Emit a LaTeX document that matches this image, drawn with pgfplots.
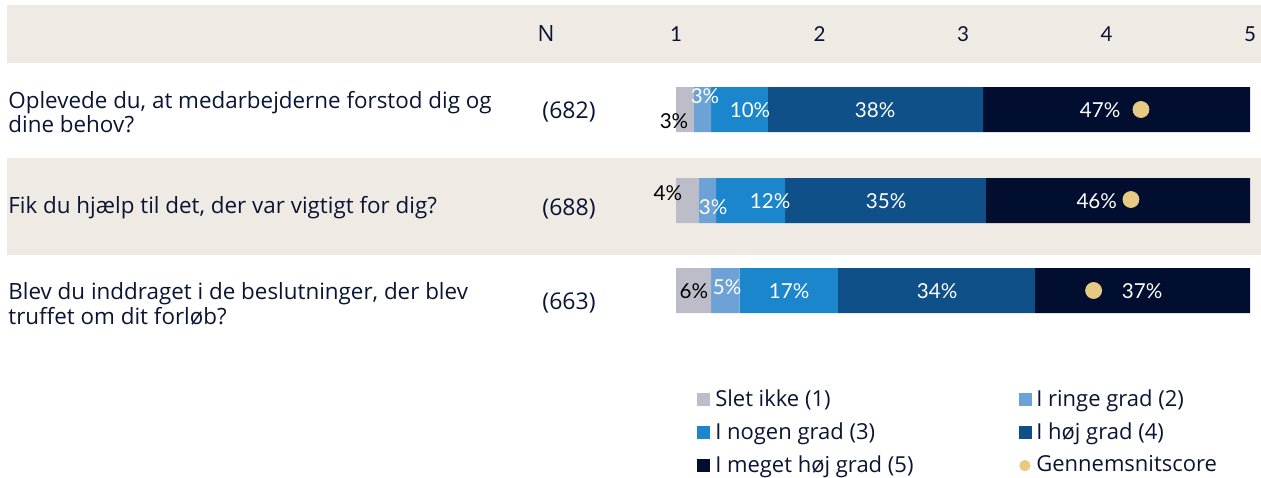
\documentclass[border=0pt]{standalone}
\usepackage{pgfplots}
\pgfplotsset{compat=1.18}
\usepackage{fontspec}
\setmainfont{Open Sans}
\newfontfamily\numfont{Lato}
\definecolor{beige}{HTML}{EFEAE3}
\definecolor{cgray}{HTML}{BCBDC8}
\definecolor{clight}{HTML}{6CA2D6}
\definecolor{cmid}{HTML}{1C86CC}
\definecolor{cdark}{HTML}{0F5088}
\definecolor{cnavy}{HTML}{020E30}
\definecolor{cgold}{HTML}{E8C983}
\definecolor{ctext}{HTML}{0A1433}
\pgfplotsset{
  base/.style={scale only axis, width=630.5pt, height=238.5pt, at={(0pt,0pt)}, anchor=south west,
    ymin=0, ymax=477, y dir=reverse},
}
\begin{document}
\begin{tikzpicture}
\fontsize{11.2}{12.2}\selectfont
% background and text axis (pixel coordinates)
\begin{axis}[base, xmin=0, xmax=1261, hide axis]
\fill[beige] (axis cs:7,5) rectangle (axis cs:1261,63);
\fill[beige] (axis cs:7,158) rectangle (axis cs:1261,255);
\node[anchor=center, text=ctext] at (axis cs:546,34) {N};
\node[anchor=west, align=left, text=ctext, inner xsep=0pt] at (axis cs:8,112) {Oplevede du, at medarbejderne forstod dig og\\dine behov?};
\node[anchor=west, align=left, text=ctext, inner xsep=0pt] at (axis cs:8,208) {Fik du hjælp til det, der var vigtigt for dig?};
\node[anchor=west, align=left, text=ctext, inner xsep=0pt] at (axis cs:8,304) {Blev du inddraget i de beslutninger, der blev\\truffet om dit forløb?};
\begin{scope}[every node/.style={font=\fontsize{11.5}{13}\selectfont}]
\node[text=ctext] at (axis cs:569,112) {(682)};
\node[text=ctext] at (axis cs:569,209) {(688)};
\node[text=ctext] at (axis cs:569,303) {(663)};
\end{scope}
\end{axis}
% bars axis (percent)
\begin{axis}[base, xmin=-117.77, xmax=101.92, hide axis,
  xbar stacked, bar width=22.5pt]
\addplot[fill=cgray, draw=none] coordinates {(3.1,109.5) (4.0,200.5) (6.1,290.5)};
\addplot[fill=clight, draw=none] coordinates {(3.0,109.5) (3.0,200.5) (5.0,290.5)};
\addplot[fill=cmid, draw=none] coordinates {(9.9,109.5) (12.0,200.5) (17.1,290.5)};
\addplot[fill=cdark, draw=none] coordinates {(37.5,109.5) (35.0,200.5) (34.3,290.5)};
\addplot[fill=cnavy, draw=none] coordinates {(46.5,109.5) (46.0,200.5) (37.5,290.5)};
\end{axis}
\begin{axis}[base, xmin=-117.77, xmax=101.92, hide axis]
\begin{scope}[every node/.style={font=\numfont\fontsize{10.3}{12}\selectfont, inner sep=0pt}]
\node[text=black] at (axis cs:-0.35,121) {3\%};
\node[text=white] at (axis cs:5.05,96) {3\%};
\node[text=white] at (axis cs:12.9,110) {10\%};
\node[text=white] at (axis cs:34.7,110) {38\%};
\node[text=white] at (axis cs:73.9,110) {47\%};
\node[text=black] at (axis cs:-1.4,193) {4\%};
\node[text=white] at (axis cs:6.45,207) {3\%};
\node[text=white] at (axis cs:16.4,201) {12\%};
\node[text=white] at (axis cs:36.6,201) {35\%};
\node[text=white] at (axis cs:73.3,201) {46\%};
\node[text=black] at (axis cs:3.1,291) {6\%};
\node[text=white] at (axis cs:8.9,287) {5\%};
\node[text=white] at (axis cs:19.7,291) {17\%};
\node[text=white] at (axis cs:45.5,291) {34\%};
\node[text=white] at (axis cs:81.2,291) {37\%};
\end{scope}
\end{axis}
% score axis
\begin{axis}[base, xmin=-3.7108, xmax=5.0767,
  axis line style={draw=none}, tick style={draw=none},
  ytick=\empty, xtick={1,2,3,4,5}, xticklabel pos=right,
  /pgf/number format/assume math mode=true,
  xticklabel style={anchor=center, yshift=-17pt, text=ctext, font=\numfont\fontsize{10.3}{12}\selectfont},
  legend columns=2,
  legend style={draw=none, fill=none, at={(axis cs:1.105,382)}, anchor=north west,
    font=\fontsize{11}{12}\selectfont, text=ctext, row sep=3.5pt,
    nodes={inner ysep=1.5pt, inner xsep=2.5pt},
    /tikz/every even column/.append style={column sep=50pt}},
  legend cell align=left]
\addlegendimage{legend image code/.code={\fill[cgray] (0pt,-3pt) rectangle (6pt,3pt);}}
\addlegendentry{Slet ikke (1)}
\addlegendimage{legend image code/.code={\fill[clight] (0pt,-3pt) rectangle (6pt,3pt);}}
\addlegendentry{I ringe grad (2)}
\addlegendimage{legend image code/.code={\fill[cmid] (0pt,-3pt) rectangle (6pt,3pt);}}
\addlegendentry{I nogen grad (3)}
\addlegendimage{legend image code/.code={\fill[cdark] (0pt,-3pt) rectangle (6pt,3pt);}}
\addlegendentry{I høj grad (4)}
\addlegendimage{legend image code/.code={\fill[cnavy] (0pt,-3pt) rectangle (6pt,3pt);}}
\addlegendentry{I meget høj grad (5)}
\addplot[only marks, mark=*, mark size=4pt, color=cgold,
  legend image code/.code={\fill[cgold] (3pt,0pt) circle (2.6pt);}] coordinates {(4.24,109.5) (4.17,199.5) (3.91,290.5)};
\addlegendentry{Gennemsnitscore}
\end{axis}
\pgfresetboundingbox
\path (0pt,0pt) rectangle (630.5pt,238.5pt);
\end{tikzpicture}
\end{document}
